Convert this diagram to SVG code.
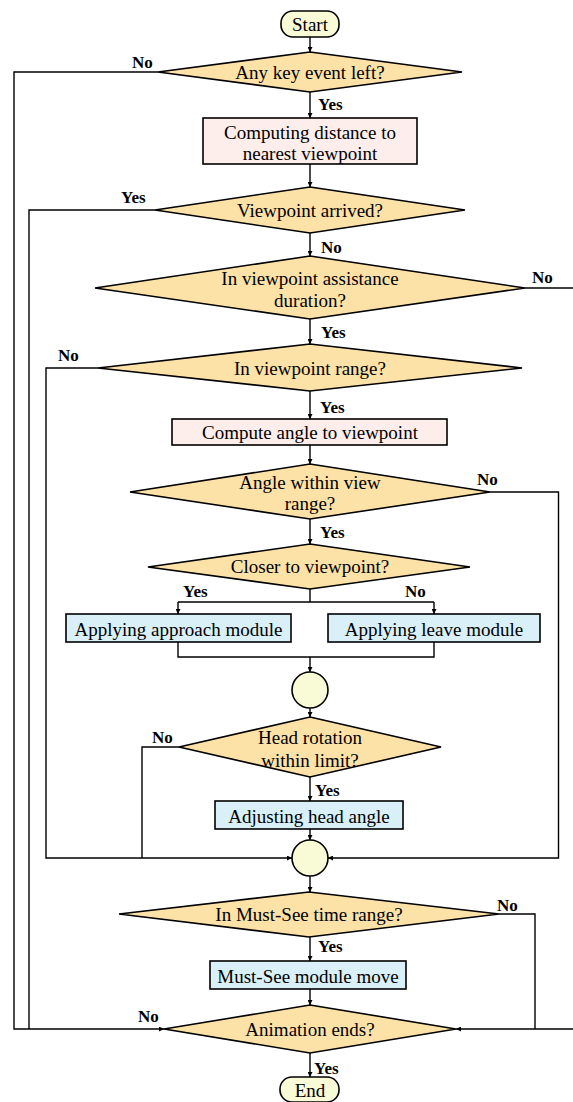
<svg xmlns="http://www.w3.org/2000/svg" width="573" height="1102" viewBox="0 0 573 1102">
<defs>
<marker id="ah" viewBox="0 0 8 8" refX="8" refY="4" markerWidth="5" markerHeight="5" markerUnits="userSpaceOnUse" orient="auto">
<path d="M0,0 L8,4 L0,8 z" fill="#000"/>
</marker>
<style>
.dec{fill:#fde2a8;stroke:#000;stroke-width:1.6}
.pink{fill:#fdeeec;stroke:#000;stroke-width:1.6}
.blue{fill:#d9f0f9;stroke:#000;stroke-width:1.6}
.term{fill:#f8fbd6;stroke:#000;stroke-width:1.6}
.t{font-family:"Liberation Serif","Times New Roman",serif;font-size:19px;text-anchor:middle;fill:#000}
.lb{font-family:"Liberation Serif","Times New Roman",serif;font-size:17px;font-weight:bold;fill:#000}
.c{fill:none;stroke:#000;stroke-width:1.4}
.a{marker-end:url(#ah)}
</style>
</defs>
<rect width="573" height="1102" fill="#fff"/>
<g id="connectors">
<path class="c a" d="M310,37 V52"/>
<path class="c a" d="M310,92 V118"/>
<path class="c a" d="M310,164 V187"/>
<path class="c a" d="M310,233 V256"/>
<path class="c a" d="M310,319 V344"/>
<path class="c a" d="M310,391 V419"/>
<path class="c a" d="M310,445 V464"/>
<path class="c a" d="M310,519 V544"/>
<path class="c" d="M310,589 V602 M178,602 H434"/>
<path class="c a" d="M178,602 V614"/>
<path class="c a" d="M434,602 V614"/>
<path class="c" d="M178,642 V657 H434 V642"/>
<path class="c a" d="M310,657 V672"/>
<path class="c a" d="M310,708 V717"/>
<path class="c a" d="M310,777 V801"/>
<path class="c a" d="M310,829 V840"/>
<path class="c a" d="M310,876 V892"/>
<path class="c a" d="M310,937 V961"/>
<path class="c a" d="M310,989 V1005"/>
<path class="c a" d="M310,1053 V1077"/>
<path class="c a" d="M158,72 H14 V1029 H164"/>
<path class="c" d="M155,210 H29 V1029"/>
<path class="c a" d="M98,368 H46 V858 H292"/>
<path class="c" d="M179,747 H142 V858"/>
<path class="c a" d="M490,492 H558.5 V858 H328"/>
<path class="c a" d="M525,288 H578 V1029 H456"/>
<path class="c" d="M499,914 H535 V1029"/>
</g>
<g id="start"><rect class="term" x="281" y="11" width="58" height="26" rx="12"/><text class="t" x="310" y="31">Start</text></g>
<g id="d1"><polygon class="dec" points="310,52 462,72 310,92 158,72"/><text class="t" x="310" y="78.5">Any key event left?</text></g>
<g id="r1"><rect class="pink" x="203" y="118" width="214" height="46"/><text class="t" x="310" y="138.5">Computing distance to</text><text class="t" x="310" y="159.5">nearest viewpoint</text></g>
<g id="d2"><polygon class="dec" points="310,187 465,210 310,233 155,210"/><text class="t" x="310" y="216.5">Viewpoint arrived?</text></g>
<g id="d3"><polygon class="dec" points="310,256 525,288 310,319 95,288"/><text class="t" x="310" y="284.5">In viewpoint assistance</text><text class="t" x="310" y="306.5">duration?</text></g>
<g id="d4"><polygon class="dec" points="310,344 522,368 310,391 98,368"/><text class="t" x="310" y="374.5">In viewpoint range?</text></g>
<g id="r2"><rect class="pink" x="172" y="419" width="275" height="26"/><text class="t" x="310" y="439">Compute angle to viewpoint</text></g>
<g id="d5"><polygon class="dec" points="310,464 490,492 310,519 130,492"/><text class="t" x="310" y="489">Angle within view</text><text class="t" x="310" y="510">range?</text></g>
<g id="d6"><polygon class="dec" points="310,544 470,567 310,589 148,567"/><text class="t" x="310" y="572.5">Closer to viewpoint?</text></g>
<g id="r3"><rect class="blue" x="66" y="614" width="225" height="28"/><text class="t" x="178.5" y="636">Applying approach module</text></g>
<g id="r4"><rect class="blue" x="328" y="614" width="212" height="28"/><text class="t" x="434" y="636">Applying leave module</text></g>
<g id="j1"><circle class="term" cx="310" cy="690" r="18"/></g>
<g id="d7"><polygon class="dec" points="310,717 441,747 310,777 179,747"/><text class="t" x="310" y="743.5">Head rotation</text><text class="t" x="310" y="766.5">within limit?</text></g>
<g id="r5"><rect class="blue" x="215" y="801" width="188" height="28"/><text class="t" x="309" y="822.5">Adjusting head angle</text></g>
<g id="j2"><circle class="term" cx="310" cy="858" r="18"/></g>
<g id="d8"><polygon class="dec" points="309,892 499,914 309,937 119,914"/><text class="t" x="309" y="920.5">In Must-See time range?</text></g>
<g id="r6"><rect class="blue" x="210" y="961" width="196" height="28"/><text class="t" x="308" y="983">Must-See module move</text></g>
<g id="d9"><polygon class="dec" points="310,1005 456,1029 310,1053 164,1029"/><text class="t" x="310" y="1035.5">Animation ends?</text></g>
<g id="end"><rect class="term" x="280" y="1077" width="59" height="25" rx="12"/><text class="t" x="310" y="1097">End</text></g>
<g id="labels">
<text class="lb" x="132" y="68">No</text>
<text class="lb" x="318" y="110">Yes</text>
<text class="lb" x="121" y="203">Yes</text>
<text class="lb" x="321" y="253">No</text>
<text class="lb" x="532" y="283">No</text>
<text class="lb" x="321" y="338">Yes</text>
<text class="lb" x="58" y="361">No</text>
<text class="lb" x="320" y="413">Yes</text>
<text class="lb" x="477" y="485">No</text>
<text class="lb" x="320" y="538">Yes</text>
<text class="lb" x="183" y="597">Yes</text>
<text class="lb" x="405" y="597">No</text>
<text class="lb" x="152" y="743">No</text>
<text class="lb" x="315" y="796">Yes</text>
<text class="lb" x="497" y="911">No</text>
<text class="lb" x="318" y="952">Yes</text>
<text class="lb" x="138" y="1022">No</text>
<text class="lb" x="314" y="1074">Yes</text>
</g>
</svg>
